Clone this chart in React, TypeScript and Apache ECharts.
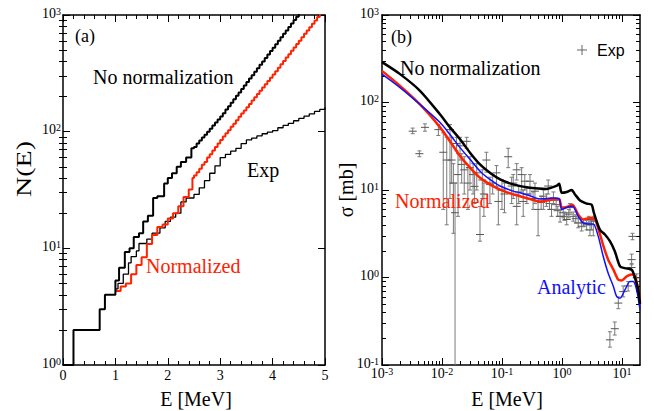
import React, { useEffect, useRef } from 'react';
import * as echarts from 'echarts';

// ---------- Panel (a): cumulative level number N(E) ----------
const aNoNormE = [0, 0.2, 0.7, 0.8, 1.0, 1.07, 1.18, 1.27, 1.35, 1.45, 1.53, 1.62, 1.72, 1.8, 1.93, 2.0, 2.08, 2.17, 2.25, 2.35, 2.45,
  2.5, 2.55, 2.6, 2.65, 2.7, 2.75, 2.8, 2.85, 2.9, 2.95, 3.0, 3.05, 3.1, 3.15, 3.2, 3.25, 3.3, 3.35, 3.4, 3.45, 3.5, 3.55, 3.6, 3.65,
  3.7, 3.75, 3.8, 3.85, 3.9, 3.95, 4.0, 4.05, 4.1, 4.15, 4.2, 4.25, 4.3, 4.35, 4.4, 4.45, 4.5];
const aNoNormN = [1, 2, 3, 4, 5.3, 6.8, 9.3, 10, 12.5, 13.5, 17, 19, 27, 28, 36, 40, 44, 50, 55, 60, 72,
  74, 79, 84, 89, 94, 100, 106, 113, 120, 127, 135, 144, 155, 165, 177, 190, 203, 217, 232, 249, 266, 285, 305, 326,
  349, 374, 400, 428, 458, 491, 525, 562, 601, 644, 689, 738, 789, 845, 904, 968, 1036];

const aNormE = [1.0, 1.1, 1.2, 1.3, 1.4, 1.5, 1.6, 1.7, 1.8, 1.9, 2.0, 2.1, 2.2, 2.3, 2.4, 2.47,
  2.5, 2.55, 2.6, 2.65, 2.7, 2.75, 2.8, 2.85, 2.9, 2.95, 3.0, 3.05, 3.1, 3.15, 3.2, 3.25, 3.3, 3.35, 3.4, 3.45, 3.5, 3.55, 3.6, 3.65,
  3.7, 3.75, 3.8, 3.85, 3.9, 3.95, 4.0, 4.05, 4.1, 4.15, 4.2, 4.25, 4.3, 4.35, 4.4, 4.45, 4.5, 4.55, 4.6, 4.65, 4.7, 4.75, 4.8, 4.85, 4.9];
const aNormN = [4.3, 4.7, 5.0, 6.0, 7.2, 8.4, 10.9, 13, 15.2, 16, 18, 20, 23, 27.5, 32, 40,
  42, 45, 48, 52, 55, 60, 64, 69, 74, 79, 85, 91, 97, 103, 110, 117, 125, 134, 143, 152, 162, 173, 185, 197,
  210, 224, 239, 255, 272, 290, 309, 330, 353, 378, 404, 432, 461, 493, 527, 564, 603, 644, 689, 736, 787, 841, 899, 962, 1028];

const aExpE = [1.0, 1.05, 1.15, 1.25, 1.3, 1.4, 1.45, 1.6, 1.7, 1.85, 1.95, 2.05, 2.15, 2.25, 2.35, 2.5, 2.6, 2.7, 2.8, 2.9, 3.0, 3.1, 3.2, 3.3, 3.4, 3.5, 3.6, 3.7, 3.8, 3.9, 4.0, 4.1, 4.2, 4.3, 4.4, 4.5, 4.6, 4.7, 4.8, 4.9, 5.0];
const aExpN = [4.5, 5.0, 6.0, 7.5, 8.5, 9.5, 11, 12, 13.5, 15, 17, 18.5, 20, 25, 27, 29, 33, 38, 44, 51, 60, 64, 68, 72, 79, 85, 88, 92, 96, 99, 102, 108, 113, 118, 124, 130, 136, 142, 149, 155, 162];

// ---------- Panel (b): cross section sigma(E) ----------
const bNoNormE = [0.001, 0.002, 0.0043, 0.0093, 0.0136, 0.02, 0.0293, 0.043, 0.063, 0.093, 0.154, 0.293, 0.55, 0.82, 0.9, 0.99, 1.2, 1.45, 1.65, 2.0, 2.58, 3.13, 3.4, 4.3, 5.2, 6.3, 7.6, 9.3, 11.2, 14.5, 16.5, 18.7, 20];
const bNoNormS = [289, 211, 136, 73, 52, 38, 26.7, 19.6, 15.7, 13.2, 11.6, 10.6, 10.3, 11.2, 11.8, 9.3, 9.5, 10.0, 8.9, 7.6, 7.0, 6.8, 5.5, 3.5, 3.1, 2.6, 2.0, 1.34, 1.28, 1.23, 0.99, 0.72, 0.5];

const bNormE = [0.001, 0.002, 0.0043, 0.0093, 0.0136, 0.02, 0.0293, 0.043, 0.063, 0.093, 0.154, 0.2, 0.293, 0.43, 0.72, 0.9, 0.99, 1.2, 1.5, 1.87, 2.26, 2.93, 3.55, 4.0, 4.9, 5.9, 7.2, 8.7, 9.9, 12, 14.5, 16.5, 18.7, 20];
const bNormS = [230, 155, 95, 52, 36, 24.4, 18, 13.8, 11.6, 10.1, 8.9, 8.5, 7.9, 7.4, 7.8, 7.9, 6.3, 6.4, 6.8, 5.2, 4.6, 4.8, 4.6, 3.7, 2.3, 1.6, 1.23, 0.94, 0.925, 1.03, 1.08, 1.03, 0.72, 0.53];

const bAnaE = [0.001, 0.002, 0.0043, 0.0093, 0.0136, 0.02, 0.0293, 0.043, 0.063, 0.093, 0.154, 0.2, 0.293, 0.43, 0.72, 0.9, 0.99, 1.2, 1.5, 1.87, 2.26, 2.75, 3.33, 4.03, 4.88, 5.9, 7.2, 8.15, 9.3, 11.2, 13.6, 15.4, 17.6, 20];
const bAnaS = [211, 148, 95, 59, 43, 30.5, 22.4, 16.4, 13.2, 11.1, 9.7, 9.3, 8.6, 7.9, 8.1, 7.9, 6.0, 6.3, 6.5, 5.0, 4.2, 4.1, 4.1, 2.95, 1.74, 1.12, 0.79, 0.61, 0.58, 0.72, 0.9, 0.9, 0.72, 0.43];

const bExpE = [0.00325, 0.0052, 0.0042, 0.0087, 0.0105, 0.012, 0.0136, 0.0145, 0.0155, 0.0165, 0.0175, 0.0185, 0.02, 0.0213, 0.0235, 0.0258, 0.027, 0.0293, 0.033, 0.035, 0.038, 0.043, 0.047, 0.05, 0.055, 0.063, 0.07, 0.081, 0.087, 0.1, 0.11, 0.127, 0.145, 0.154, 0.176, 0.176, 0.19, 0.213, 0.226, 0.24, 0.26, 0.293, 0.33, 0.355, 0.40, 0.45, 0.49, 0.55, 0.59, 0.62, 0.67, 0.72, 0.8, 0.85, 0.93, 1.05, 1.1, 1.2, 1.3, 1.36, 1.54, 1.7, 1.87, 2.13, 2.3, 2.58, 2.8, 2.93, 3.1, 3.33, 6.3, 7.6, 8.7, 10.5, 12.7, 14.5, 15, 17.6, 14.5];
const bExpS = [47, 52, 26, 49, 27, 22, 49, 22, 12, 5.5, 34, 15, 32, 19.6, 17, 36, 12, 18, 15, 11, 15.7, 3.1, 13, 9, 22, 11.6, 12, 15.7, 7.4, 10, 9, 24, 11.1, 12, 6.5, 17, 9.5, 15, 7.4, 12.6, 9, 12.6, 8, 9.7, 6.0, 7.2, 8.5, 7.8, 11.1, 7.0, 6.0, 8.1, 6.8, 5.8, 5.0, 5.5, 5.0, 4.6, 5.3, 6.3, 5.0, 4.7, 4.2, 3.85, 4.2, 4.0, 4.6, 3.5, 4.0, 4.4, 0.194, 0.26, 0.51, 0.69, 0.8, 1.6, 2.95, 0.99, 1.3];
const bExpLo = [44, 47, 24, 42, 6, 4, 8, 12, 3.2, 0.05, 28, 5, 22, 12, 9, 30, 6, 10, 9, 7, 10, 2.6, 8, 5, 16, 7, 9, 11, 4, 6, 5.5, 18, 7, 8, 4, 13, 7, 10, 5, 10, 7, 9, 6, 7, 3, 6, 6, 6.5, 9, 6, 5, 7, 6, 5, 4.3, 4.8, 4.5, 4, 4.8, 5.5, 4.4, 4.2, 3.7, 3.4, 3.8, 3.5, 4.2, 3.0, 3.5, 3.0, 0.16, 0.22, 0.44, 0.6, 0.7, 1.4, 2.7, 0.9, 1.2];
const bExpHi = [51, 57, 28, 56, 45, 40, 56, 40, 20, 12, 40, 26, 40, 26, 24, 40, 18, 24, 20, 15, 20, 6.5, 17, 12, 27, 14, 15, 19, 10, 13, 12, 30, 14, 15, 9, 20, 11, 18, 10, 15, 10.5, 15, 9.5, 12, 8, 8.5, 10, 9, 13, 8, 7, 9.5, 7.6, 6.5, 6, 6.2, 5.6, 5.5, 6, 7, 5.6, 5.2, 4.8, 4.3, 4.6, 4.5, 5, 4.2, 4.5, 5.0, 0.24, 0.31, 0.6, 0.8, 0.9, 1.85, 3.2, 1.1, 1.45];

// ---------- Tick positions ----------
const aXMax = 5;
const aYMin = 1, aYMax = 1000;
const bXMin = 0.001, bXMax = 20;
const bYMin = 0.1, bYMax = 1000;
const bXMajor = [0.001, 0.01, 0.1, 1, 10];
const bYMajor = [0.1, 1, 10, 100, 1000];
const aYMajor = [1, 10, 100, 1000];

function logMinor(e0: number, e1: number, max: number): number[] {
  const out: number[] = [];
  for (let e = e0; e < e1; e++) {
    for (let k = 2; k <= 9; k++) {
      const v = parseFloat((k * Math.pow(10, e)).toPrecision(3));
      if (v < max) out.push(v);
    }
  }
  return out;
}
const aYMinor = logMinor(0, 3, aYMax);
const bYMinor = logMinor(-1, 3, bYMax);
const bXMinor = logMinor(-3, 2, bXMax);

const SERIF = '"Liberation Serif", "Times New Roman", serif';
const SANS = '"Liberation Sans", Arial, sans-serif';
const RED = '#ff2200';
const BLUE = '#1010ff';

const pairs = (xs: number[], ys: number[]) => xs.map((x, i) => [x, ys[i]]);
const supFmt = (v: number) => `{b|10}{s|${Math.round(Math.log10(v))}}`;
const supRich = {
  b: { fontSize: 14, fontFamily: SERIF, color: '#000', lineHeight: 14, padding: [4, 0, 0, 0], verticalAlign: 'bottom' },
  s: { fontSize: 10, fontFamily: SERIF, color: '#000', lineHeight: 10, verticalAlign: 'top' },
};

const frameLine = { show: true, onZero: false, lineStyle: { color: '#000', width: 1.5 } };
const noLine = { show: false };
const tickMajor = (extra: any = {}) => ({ show: true, inside: true, length: 7, lineStyle: { color: '#000', width: 1 }, ...extra });
const tickMinor = (vals: number[]) => ({ show: true, inside: true, length: 4, lineStyle: { color: '#000', width: 1 }, customValues: vals });
const off = { show: false };

export default function App() {
  const ref = useRef<HTMLDivElement>(null);
  useEffect(() => {
    if (!ref.current) return;
    const chart = echarts.init(ref.current, undefined, { renderer: 'svg' });

    const xAxis: any[] = [
      {
        gridIndex: 0, type: 'value', min: 0, max: aXMax, interval: 1, position: 'bottom',
        axisLine: frameLine, axisTick: tickMajor(),
        minorTick: { show: true, splitNumber: 5, length: 4, lineStyle: { color: '#000', width: 1 } },
        axisLabel: { show: true, fontSize: 14, fontFamily: SERIF, color: '#000', margin: 3 },
        splitLine: off, minorSplitLine: off,
      },
      {
        gridIndex: 0, type: 'value', min: 0, max: aXMax, interval: 1, position: 'top',
        axisLine: frameLine, axisTick: tickMajor(),
        minorTick: { show: true, splitNumber: 5, length: 4, lineStyle: { color: '#000', width: 1 } },
        axisLabel: off, splitLine: off, minorSplitLine: off,
      },
      {
        gridIndex: 1, type: 'log', min: bXMin, max: bXMax, position: 'bottom',
        axisLine: frameLine, axisTick: tickMajor({ customValues: bXMajor }),
        axisLabel: { show: true, customValues: bXMajor, formatter: supFmt, rich: supRich, margin: 1 },
        splitLine: off,
      },
      { gridIndex: 1, type: 'log', min: bXMin, max: bXMax, position: 'bottom', axisLine: noLine, axisTick: tickMinor(bXMinor), axisLabel: off, splitLine: off },
      { gridIndex: 1, type: 'log', min: bXMin, max: bXMax, position: 'top', axisLine: frameLine, axisTick: tickMajor({ customValues: bXMajor }), axisLabel: off, splitLine: off },
      { gridIndex: 1, type: 'log', min: bXMin, max: bXMax, position: 'top', axisLine: noLine, axisTick: tickMinor(bXMinor), axisLabel: off, splitLine: off },
    ];

    const yAxis: any[] = [
      {
        gridIndex: 0, type: 'log', min: aYMin, max: aYMax, position: 'left',
        axisLine: frameLine, axisTick: tickMajor({ customValues: aYMajor }),
        axisLabel: { show: true, customValues: aYMajor, formatter: supFmt, rich: supRich, margin: 2, padding: [0, 0, 4, 0] },
        splitLine: off,
      },
      { gridIndex: 0, type: 'log', min: aYMin, max: aYMax, position: 'left', axisLine: noLine, axisTick: tickMinor(aYMinor), axisLabel: off, splitLine: off },
      { gridIndex: 0, type: 'log', min: aYMin, max: aYMax, position: 'right', axisLine: frameLine, axisTick: tickMajor({ customValues: aYMajor }), axisLabel: off, splitLine: off },
      { gridIndex: 0, type: 'log', min: aYMin, max: aYMax, position: 'right', axisLine: noLine, axisTick: tickMinor(aYMinor), axisLabel: off, splitLine: off },
      {
        gridIndex: 1, type: 'log', min: bYMin, max: bYMax, position: 'left',
        axisLine: frameLine, axisTick: tickMajor({ customValues: bYMajor }),
        axisLabel: { show: true, customValues: bYMajor, formatter: supFmt, rich: supRich, margin: 3, padding: [0, 0, 4, 0] },
        splitLine: off,
      },
      { gridIndex: 1, type: 'log', min: bYMin, max: bYMax, position: 'left', axisLine: noLine, axisTick: tickMinor(bYMinor), axisLabel: off, splitLine: off },
      { gridIndex: 1, type: 'log', min: bYMin, max: bYMax, position: 'right', axisLine: frameLine, axisTick: tickMajor({ customValues: bYMajor }), axisLabel: off, splitLine: off },
      { gridIndex: 1, type: 'log', min: bYMin, max: bYMax, position: 'right', axisLine: noLine, axisTick: tickMinor(bYMinor), axisLabel: off, splitLine: off },
    ];

    const expData = bExpE.map((e, i) => [e, bExpS[i], bExpLo[i], bExpHi[i]]);

    const text = (x: number, y: number, t: string, opts: any = {}) => ({
      type: 'text', x, y, rotation: opts.rotation || 0, scaleX: opts.scaleX || 1, z: 100,
      style: {
        text: t, fill: opts.fill || '#000', fontSize: opts.fontSize || 20,
        fontFamily: opts.fontFamily || SERIF,
        textAlign: opts.align || 'left', textVerticalAlign: 'middle',
      },
    });

    chart.setOption({
      animation: false,
      backgroundColor: '#fff',
      grid: [
        { left: 63, top: 15, width: 262, height: 350 },
        { left: 382, top: 15, width: 258, height: 350 },
      ],
      xAxis,
      yAxis,
      legend: {
        left: 572, top: 37, itemWidth: 10, itemHeight: 10,
        data: [{ name: 'Exp', icon: 'path://M4.5,0H5.5V4.5H10V5.5H5.5V10H4.5V5.5H0V4.5H4.5Z' }],
        textStyle: { fontFamily: SANS, fontSize: 16, color: '#000', padding: [0, 0, 0, 5] },
        selectedMode: false,
      },
      series: [
        {
          name: 'Exp (a)', type: 'line', step: 'end', xAxisIndex: 0, yAxisIndex: 0,
          data: pairs(aExpE, aExpN), showSymbol: false, lineStyle: { color: '#000', width: 1.3 },
        },
        {
          name: 'Normalized (a)', type: 'line', step: 'end', xAxisIndex: 0, yAxisIndex: 0,
          data: pairs(aNormE, aNormN), showSymbol: false, lineStyle: { color: RED, width: 2 },
        },
        {
          name: 'No normalization (a)', type: 'line', step: 'end', xAxisIndex: 0, yAxisIndex: 0,
          data: pairs(aNoNormE, aNoNormN), showSymbol: false, lineStyle: { color: '#000', width: 2 },
        },
        {
          name: 'Exp', type: 'custom', xAxisIndex: 2, yAxisIndex: 4, clip: true,
          itemStyle: { color: '#666' },
          encode: { x: 0, y: 1 },
          data: expData,
          renderItem: (params: any, api: any) => {
            const e = api.value(0), s = api.value(1), lo = api.value(2), hi = api.value(3);
            const p = api.coord([e, s]);
            const pl = api.coord([e, lo]);
            const ph = api.coord([e, hi]);
            const st = { stroke: '#7a7a7a', lineWidth: 1 };
            return {
              type: 'group',
              children: [
                { type: 'line', shape: { x1: p[0], y1: pl[1], x2: p[0], y2: ph[1] }, style: st },
                { type: 'line', shape: { x1: p[0] - 2, y1: pl[1], x2: p[0] + 2, y2: pl[1] }, style: st },
                { type: 'line', shape: { x1: p[0] - 2, y1: ph[1], x2: p[0] + 2, y2: ph[1] }, style: st },
                { type: 'line', shape: { x1: p[0] - 4, y1: p[1], x2: p[0] + 4, y2: p[1] }, style: { stroke: '#555', lineWidth: 1 } },
              ],
            };
          },
        },
        {
          name: 'Normalized (b)', type: 'line', xAxisIndex: 2, yAxisIndex: 4, smooth: 0.25,
          data: pairs(bNormE, bNormS), showSymbol: false, lineStyle: { color: RED, width: 2.5 },
        },
        {
          name: 'Analytic', type: 'line', xAxisIndex: 2, yAxisIndex: 4, smooth: 0.25,
          data: pairs(bAnaE, bAnaS), showSymbol: false, lineStyle: { color: BLUE, width: 1.5 },
        },
        {
          name: 'No normalization (b)', type: 'line', xAxisIndex: 2, yAxisIndex: 4, smooth: 0.25,
          data: pairs(bNoNormE, bNoNormS), showSymbol: false, lineStyle: { color: '#000', width: 2.5 },
        },
      ],
      graphic: [
        text(75, 36, '(a)', { fontSize: 18 }),
        text(93, 77, 'No normalization'),
        text(247, 170, 'Exp'),
        text(146, 266, 'Normalized', { fill: RED }),
        text(24, 169, 'N(E)', { rotation: Math.PI / 2, align: 'center', scaleX: 1.4 }),
        text(196, 399, 'E [MeV]', { align: 'center' }),
        text(391, 37, '(b)', { fontSize: 18 }),
        text(400, 68, 'No normalization'),
        text(395, 201, 'Normalized', { fill: RED }),
        text(537, 287, 'Analytic', { fill: BLUE }),
        text(346, 190, 'σ [mb]', { rotation: Math.PI / 2, align: 'center' }),
        text(507, 399, 'E [MeV]', { align: 'center' }),
      ],
    });
    return () => chart.dispose();
  }, []);
  return <div ref={ref} style={{ position: 'fixed', left: 0, top: 0, width: 654, height: 411, background: '#fff' }} />;
}
